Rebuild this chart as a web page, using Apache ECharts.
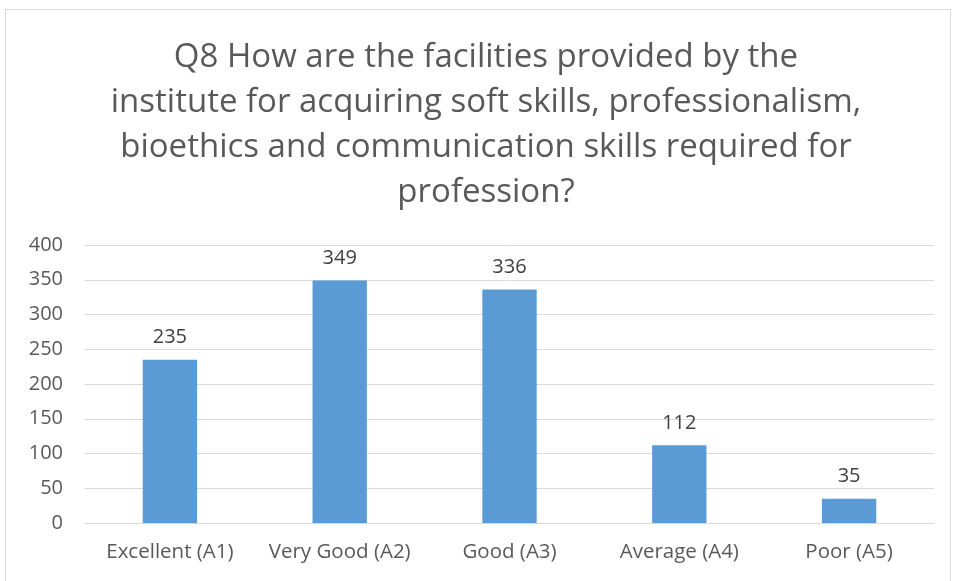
<!DOCTYPE html>
<html>
<head>
<meta charset="utf-8">
<script src="https://cdn.jsdelivr.net/npm/echarts@6/dist/echarts.min.js"></script>
<style>
  html, body { margin: 0; padding: 0; background: #fff; }
  #frame { position: absolute; left: 5px; top: 9px; width: 946px; height: 580px; border: 1px solid #d9d9d9; box-sizing: border-box; }
  #chart { position: absolute; left: 0; top: 0; width: 954px; height: 581px; }
</style>
</head>
<body>
<div id="frame"></div>
<div id="chart"></div>
<script>
var categories = ['Excellent (A1)', 'Very Good (A2)', 'Good (A3)', 'Average (A4)', 'Poor (A5)'];
var responses = [235, 349, 336, 112, 35];
var yTicks = [0, 50, 100, 150, 200, 250, 300, 350, 400];

var chartDom = document.getElementById('chart');
var myChart = echarts.init(chartDom);
var option;

option = {
  title: {
    text: 'Q8 How are the facilities provided by the\ninstitute for acquiring soft skills, professionalism,\nbioethics and communication skills required for\nprofession?',
    left: 481,
    top: 30,
    textAlign: 'center',
    textStyle: {
      fontFamily: 'Open Sans',
      fontSize: 33,
      fontWeight: 'normal',
      color: '#595959',
      lineHeight: 45
    }
  },
  grid: {
    left: 85,
    right: 20,
    top: 245,
    bottom: 58
  },
  xAxis: {
    type: 'category',
    data: categories,
    axisTick: { show: false },
    axisLine: { lineStyle: { color: '#d9d9d9', width: 1 } },
    axisLabel: {
      interval: 0,
      fontFamily: 'Open Sans',
      fontSize: 20.5,
      color: '#595959',
      margin: 19
    }
  },
  yAxis: {
    type: 'value',
    min: yTicks[0],
    max: yTicks[yTicks.length - 1],
    interval: 50,
    axisLine: { show: false },
    axisTick: { show: false },
    splitLine: { lineStyle: { color: '#d9d9d9', width: 1 } },
    axisLabel: {
      fontFamily: 'Open Sans',
      fontSize: 20,
      color: '#595959',
      margin: 22
    }
  },
  series: [
    {
      type: 'bar',
      data: responses,
      barWidth: '32%',
      itemStyle: { color: '#5b9bd5' },
      label: {
        show: true,
        position: 'top',
        distance: 12,
        fontFamily: 'Open Sans',
        fontSize: 20,
        color: '#404040'
      }
    }
  ]
};

option && myChart.setOption(option);
</script>
</body>
</html>
